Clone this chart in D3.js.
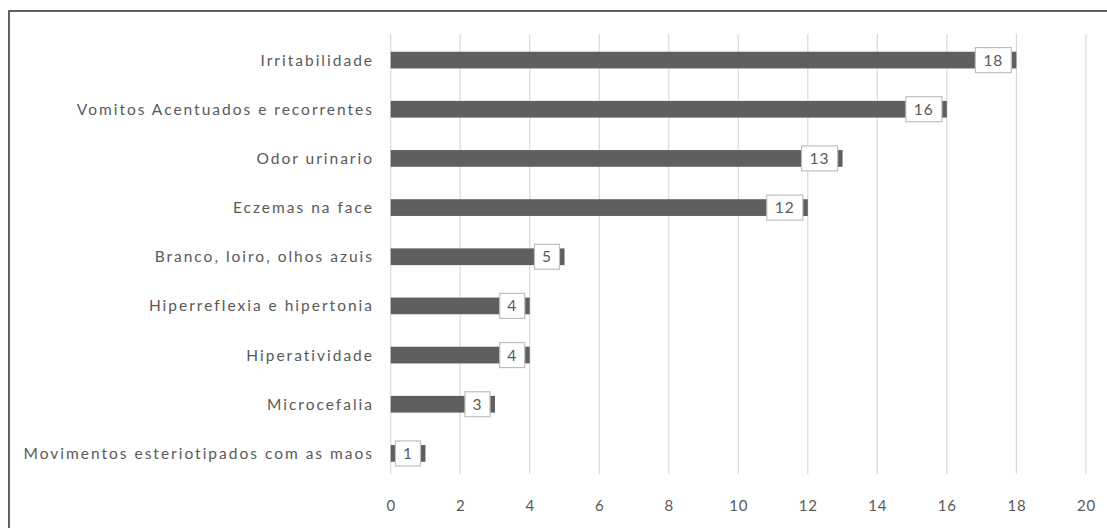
<!DOCTYPE html>
<html>
<head>
<meta charset="utf-8">
<script src="https://cdn.jsdelivr.net/npm/d3@7"></script>
<style>
  body { margin: 0; background: #fff; }
  svg { display: block; }
  text { font-family: Lato, "Open Sans", sans-serif; fill: #595959; }
</style>
</head>
<body>
<div id="chart"></div>
<script>
var w = 1107;
var h = 528;

// categories top to bottom, and their counts
var categories = [
    "Irritabilidade",
    "Vomitos Acentuados e recorrentes",
    "Odor urinario",
    "Eczemas na face",
    "Branco, loiro, olhos azuis",
    "Hiperreflexia e hipertonia",
    "Hiperatividade",
    "Microcefalia",
    "Movimentos esteriotipados com as maos"
];
var values = [18, 16, 13, 12, 5, 4, 4, 3, 1];
var xTicks = [0, 2, 4, 6, 8, 10, 12, 14, 16, 18, 20];

var svg = d3.select("#chart")
            .append("svg")
            .attr("width", w)
            .attr("height", h);

// frame around the chart (runs off the right and bottom)
svg.append("rect")
    .attr("x", 9)
    .attr("y", 11)
    .attr("width", w + 20)
    .attr("height", h + 20)
    .attr("fill", "#fff")
    .attr("stroke", "#3a3a3a")
    .attr("stroke-width", 1.6);

var xScale = d3.scaleLinear()
                .domain([0, 20])
                .range([390.7, 1085.9]);

var yScale = d3.scaleBand()
                .domain(categories)
                .range([35.5, 478])
                .paddingInner(0.66)
                .paddingOuter(0.33);

// vertical gridlines
svg.append("g")
    .selectAll("line")
    .data(xTicks)
    .enter()
    .append("line")
    .attr("x1", function(d) { return xScale(d); })
    .attr("x2", function(d) { return xScale(d); })
    .attr("y1", 34)
    .attr("y2", 474)
    .attr("stroke", "#d9d9d9")
    .attr("stroke-width", 1.2);

// x axis labels
var xAxis = d3.axisBottom(xScale)
              .tickValues(xTicks)
              .tickSize(0)
              .tickPadding(0);
var gx = svg.append("g")
    .attr("transform", "translate(0,500)")
    .call(xAxis);
gx.select(".domain").remove();
gx.selectAll("text")
    .style("font-family", "Lato, sans-serif")
    .style("font-size", "15px")
    .style("letter-spacing", "0.8px")
    .style("fill", "#595959");

// category labels (spaced out like the original rendering)
svg.append("g")
    .selectAll("text")
    .data(categories)
    .enter()
    .append("text")
    .attr("x", 374)
    .attr("y", function(d) { return yScale(d) + yScale.bandwidth() / 2; })
    .attr("dy", "0.35em")
    .attr("text-anchor", "end")
    .style("font-size", "15.5px")
    .style("letter-spacing", "2px")
    .text(function(d) { return d; });

// bars
svg.append("g")
    .selectAll("rect")
    .data(values)
    .enter()
    .append("rect")
    .attr("x", xScale(0))
    .attr("y", function(d, i) { return yScale(categories[i]); })
    .attr("width", function(d) { return xScale(d) - xScale(0); })
    .attr("height", yScale.bandwidth())
    .attr("fill", "#5f5f5f");

// data labels in white boxes near the bar ends
var labels = svg.append("g")
    .selectAll("g")
    .data(values)
    .enter()
    .append("g");

labels.append("rect")
    .attr("x", function(d) {
        var bw = d >= 10 ? 36 : 25;
        return xScale(d) - 5 - bw;
    })
    .attr("y", function(d, i) { return yScale(categories[i]) + yScale.bandwidth() / 2 - 12.5; })
    .attr("width", function(d) { return d >= 10 ? 36 : 25; })
    .attr("height", 25)
    .attr("fill", "#fff")
    .attr("stroke", "#bfbfbf")
    .attr("stroke-width", 1.2);

labels.append("text")
    .attr("x", function(d) {
        var bw = d >= 10 ? 36 : 25;
        return xScale(d) - 5 - bw / 2;
    })
    .attr("y", function(d, i) { return yScale(categories[i]) + yScale.bandwidth() / 2; })
    .attr("dy", "0.36em")
    .attr("text-anchor", "middle")
    .style("font-size", "15.5px")
    .style("letter-spacing", "1px")
    .text(function(d) { return d; });
</script>
</body>
</html>
